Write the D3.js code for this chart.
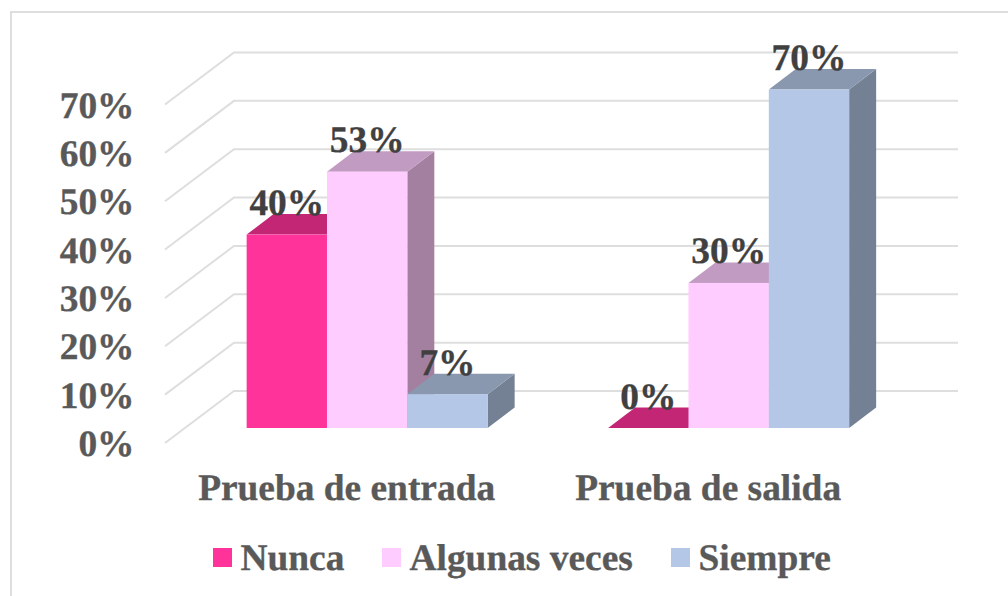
<!DOCTYPE html>
<html>
<head>
<meta charset="utf-8">
<script src="https://cdn.jsdelivr.net/npm/d3@7"></script>
<style>
  html, body { margin: 0; padding: 0; background: #fff; }
  svg { display: block; }
  text { font-family: "Liberation Serif", serif; font-weight: bold; text-rendering: geometricPrecision; stroke-width: 0.35; }
</style>
</head>
<body>
<div id="chart"></div>
<script>
const categories = ["Prueba de entrada", "Prueba de salida"];
const seriesNames = ["Nunca", "Algunas veces", "Siempre"];
const nunca = [40, 0];
const algunasVeces = [53, 30];
const siempre = [7, 70];
const yTicks = [0, 10, 20, 30, 40, 50, 60, 70];

const faceColors = ["#ff3399", "#ffccff", "#b4c7e7"];
const topColors = ["#c22674", "#c29bc2", "#8997af"];
const sideColors = ["#a12060", "#a3809f", "#748195"];

const width = 1008;
const height = 596;
const fontSize = 37.4;

// bars sit part way into the floor, the walls go all the way back
const floorFront = 443;
const barFront = 428;
const wallDx = 69;
const wallDy = -52;
const barDx = 27;
const barDy = -20.5;

const svg = d3
  .select("#chart")
  .append("svg")
  .attr("width", width)
  .attr("height", height);

// chart frame, runs off the right and bottom of the picture
svg
  .append("rect")
  .attr("x", 11)
  .attr("y", 12)
  .attr("width", 1100)
  .attr("height", 700)
  .attr("fill", "#fff")
  .attr("stroke", "#dedede")
  .attr("stroke-width", 2);

const h = d3.scaleLinear().domain([0, 70]).range([0, 338.5]);
const x0 = d3
  .scaleBand()
  .domain(categories)
  .range([186.4, 909.4])
  .paddingInner(1 / 3)
  .paddingOuter(1 / 6);
const x1 = d3.scaleBand().domain(seriesNames).range([0, x0.bandwidth()]);

// gridlines: front left, back left, back right
const grid = svg.append("g").attr("fill", "none").attr("stroke", "#dedede").attr("stroke-width", 2);
yTicks.forEach((t) => {
  const yf = floorFront - h(t);
  grid
    .append("path")
    .attr("d", d3.line()([
      [165, yf],
      [165 + wallDx, yf + wallDy],
      [958, yf + wallDy],
    ]));
});

// y labels
svg
  .selectAll(".ytick")
  .data(yTicks)
  .enter()
  .append("text")
  .attr("class", "ytick")
  .attr("x", 134.5)
  .attr("y", (d) => floorFront - h(d) + 13)
  .attr("text-anchor", "end")
  .attr("fill", "#595959")
  .attr("stroke", "#595959")
  .attr("font-size", fontSize)
  .text((d) => d + "%");

const values = [nunca, algunasVeces, siempre];

function drawBar(g, cat, s) {
  const v = values[s][cat];
  const x = x0(categories[cat]) + x1(seriesNames[s]);
  const w = x1.bandwidth();
  const top = barFront - h(v);
  if (v > 0) {
    g.append("path")
      .attr("fill", sideColors[s])
      .attr("d", d3.line()([
        [x + w, top],
        [x + w + barDx, top + barDy],
        [x + w + barDx, barFront + barDy],
        [x + w, barFront],
      ]) + "Z");
  }
  g.append("path")
    .attr("fill", topColors[s])
    .attr("d", d3.line()([
      [x, top],
      [x + barDx, top + barDy],
      [x + w + barDx, top + barDy],
      [x + w, top],
    ]) + "Z");
  g.append("rect")
    .attr("x", x)
    .attr("y", top)
    .attr("width", w)
    .attr("height", h(v))
    .attr("fill", faceColors[s]);
}

const bars = svg.append("g");
categories.forEach((c, i) => {
  seriesNames.forEach((n, s) => drawBar(bars, i, s));
});

// value labels go over the bars
categories.forEach((c, i) => {
  seriesNames.forEach((n, s) => {
    const v = values[s][i];
    svg
      .append("text")
      .attr("x", x0(c) + x1(n) + x1.bandwidth() / 2)
      .attr("y", barFront - h(v) - 19.5)
      .attr("text-anchor", "middle")
      .attr("fill", "#404040")
      .attr("stroke", "#404040")
      .attr("font-size", fontSize)
      .text(v + "%");
  });
});

// category labels
svg
  .selectAll(".cat")
  .data(categories)
  .enter()
  .append("text")
  .attr("class", "cat")
  .attr("x", (d) => x0(d) + x0.bandwidth() / 2 - 20.5)
  .attr("y", 500)
  .attr("text-anchor", "middle")
  .attr("fill", "#595959")
  .attr("stroke", "#595959")
  .attr("font-size", fontSize)
  .text((d) => d);

// legend
const legendX = [213, 382, 671];
const legend = svg
  .selectAll(".legend")
  .data(seriesNames)
  .enter()
  .append("g")
  .attr("class", "legend")
  .attr("transform", (d, i) => `translate(${legendX[i]},0)`);
legend
  .append("rect")
  .attr("y", 548)
  .attr("width", 19)
  .attr("height", 19)
  .attr("fill", (d, i) => faceColors[i]);
legend
  .append("text")
  .attr("x", 27.5)
  .attr("y", 570)
  .attr("fill", "#595959")
  .attr("stroke", "#595959")
  .attr("font-size", fontSize)
  .text((d) => d);
</script>
</body>
</html>
